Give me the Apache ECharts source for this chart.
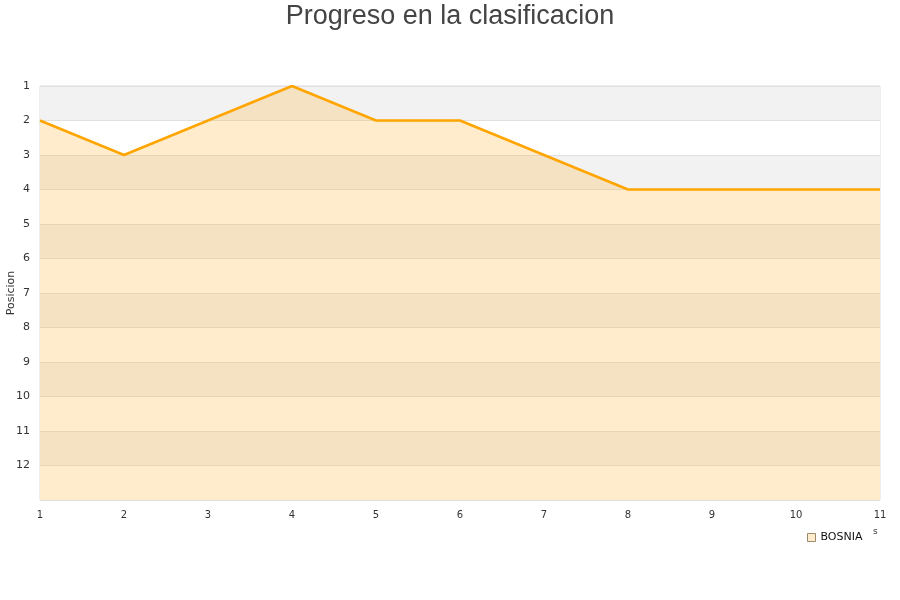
<!DOCTYPE html>
<html><head><meta charset="utf-8">
<script src="https://cdn.jsdelivr.net/npm/echarts@6/dist/echarts.min.js"></script>
<style>html,body{margin:0;padding:0;background:#fff}#c{width:900px;height:600px}</style>
</head><body><div id="c"></div>
<script>
const jornadas = [1,2,3,4,5,6,7,8,9,10,11];
const posiciones = [2,3,2,1,2,2,3,4,4,4,4];
const equipo = 'BOSNIA';
const tituloTexto = 'Progreso en la clasificacion';

const chart = echarts.init(document.getElementById('c'));
chart.setOption({
  animation: false,
  title: {text: tituloTexto, left: 'center', top: -2,
    textStyle: {fontFamily: 'Liberation Sans, Arial, sans-serif', fontSize: 27, fontWeight: 'normal', color: '#444'}},
  grid: {left: 40, right: 20, top: 86, bottom: 100, show: true, borderColor: '#ddd', borderWidth: 1,
    containLabel: false, outerBoundsMode: 'none'},
  legend: {left: 802, top: 527, icon: 'rect', itemWidth: 8, itemHeight: 8, itemGap: 10,
    textStyle: {fontFamily: 'DejaVu Sans, sans-serif', fontSize: 11, color: '#111'},
    data: [{name: equipo, itemStyle: {color: '#ffeccc', borderColor: '#9a8a70', borderWidth: 1}}]},
  xAxis: {type: 'value', min: 1, max: 11, interval: 1,
    axisLine: {show: false}, axisTick: {show: false}, splitLine: {show: false},
    axisLabel: {fontFamily: 'DejaVu Sans, sans-serif', fontSize: 10, color: '#333', margin: 10,
      formatter: v => String(v)}},
  yAxis: {type: 'value', inverse: true, min: 1, max: 13, interval: 1,
    name: 'Posicion', nameLocation: 'middle', nameGap: 23, nameRotate: 90, nameMoveOverlap: false,
    nameTextStyle: {fontFamily: 'DejaVu Sans, sans-serif', fontSize: 11, color: '#333'},
    axisLine: {show: false}, axisTick: {show: false},
    axisLabel: {fontFamily: 'DejaVu Sans, sans-serif', fontSize: 11, color: '#333', margin: 10,
      formatter: v => (v >= 13 ? '' : String(v))},
    splitLine: {show: true, lineStyle: {color: '#e0e0e0', width: 1}},
    splitArea: {show: true, areaStyle: {color: ['#f2f2f2', '#ffffff']}}},
  series: [{
    name: equipo, type: 'line', showSymbol: false, symbol: 'none',
    data: jornadas.map((j, i) => [j, posiciones[i]]),
    lineStyle: {color: '#ffa500', width: 2.5},
    itemStyle: {color: '#ffeccc'},
    areaStyle: {origin: 'end', color: 'rgba(255,179,51,0.25)', opacity: 1}
  }],
  graphic: [{type: 'text', left: 873, top: 527, style: {text: 's', fontSize: 9, fill: '#333', fontFamily: 'DejaVu Sans, sans-serif'}}]
});
</script></body></html>
